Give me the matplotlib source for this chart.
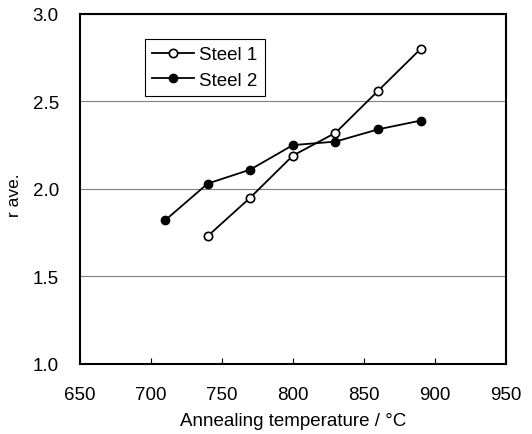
import matplotlib
matplotlib.use("Agg")
import matplotlib.pyplot as plt

# r-value vs annealing temperature
temp_1 = [740, 770, 800, 830, 860, 890]
r_steel_1 = [1.73, 1.95, 2.19, 2.32, 2.56, 2.80]

temp_2 = [710, 740, 770, 800, 830, 860, 890]
r_steel_2 = [1.82, 2.03, 2.11, 2.25, 2.27, 2.34, 2.39]

x_ticks = [650, 700, 750, 800, 850, 900, 950]
y_ticks = [1.0, 1.5, 2.0, 2.5, 3.0]

plt.rcParams['font.family'] = ['Liberation Sans', 'DejaVu Sans']

fig = plt.figure(figsize=(5.32, 4.35), dpi=100)
ax = fig.add_axes([0.150, 0.161, 0.801, 0.805])

ax.plot(temp_2, r_steel_2, color='black', lw=1.3, marker='o', markersize=6,
        markerfacecolor='black', markeredgecolor='black', label='Steel 2', zorder=3)
ax.plot(temp_1, r_steel_1, color='black', lw=1.3, marker='o', markersize=6,
        markerfacecolor='white', markeredgecolor='black', markeredgewidth=1.2,
        label='Steel 1', zorder=4)

ax.set_xlim(650, 950)
ax.set_ylim(1.0, 3.0)
ax.set_xticks(x_ticks)
ax.set_yticks(y_ticks)
ax.set_yticklabels([f"{v:.1f}" for v in y_ticks])

# horizontal gridlines only
ax.yaxis.grid(True, color='#808080', lw=0.8)
ax.set_axisbelow(True)

ax.tick_params(axis='x', direction='in', length=4, width=0.8, labelsize=13.5, pad=16)
ax.tick_params(axis='y', length=0, labelsize=13.5, pad=15)
for s in ax.spines.values():
    s.set_linewidth(1.5)

ax.set_xlabel('Annealing temperature / °C', fontsize=13.5, labelpad=6)
ax.set_ylabel('r ave.', fontsize=12.5)
ax.yaxis.set_label_coords(-0.135, 0.486)

handles, labels = ax.get_legend_handles_labels()
leg = ax.legend(handles[::-1], labels[::-1], loc='upper left',
                bbox_to_anchor=(0.153, 0.929), borderaxespad=0,
                fontsize=13.5, fancybox=False,
                edgecolor='black', framealpha=1, handlelength=2.2,
                borderpad=0.4, labelspacing=0.45, handletextpad=0.3)
leg.get_frame().set_linewidth(0.8)

fig.savefig('out.png', dpi=100)
